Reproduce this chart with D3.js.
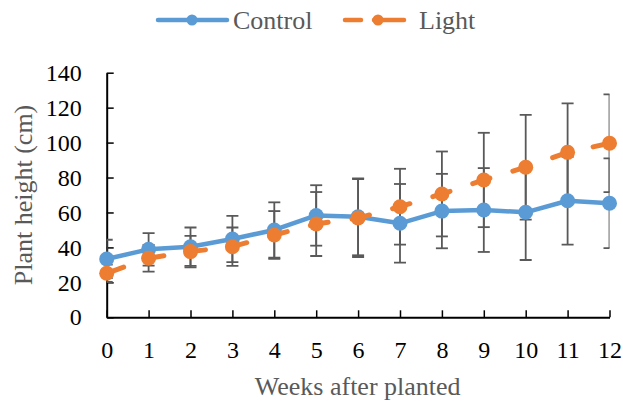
<!DOCTYPE html>
<html>
<head>
<meta charset="utf-8">
<script src="https://cdn.jsdelivr.net/npm/d3@7"></script>
<style>
  html, body { margin: 0; padding: 0; background: #fff; }
  svg { display: block; }
</style>
</head>
<body>
<svg id="chart" width="623" height="403"></svg>
<script>
const weeks = [0, 1, 2, 3, 4, 5, 6, 7, 8, 9, 10, 11, 12];
const seriesNames = ["Control", "Light"];
const control = [33.4, 38.9, 40.4, 44.8, 50.0, 58.3, 57.5, 53.8, 60.8, 61.4, 60.1, 66.7, 65.3];
const controlErr = [11, 9.3, 11, 13.2, 15.8, 17.3, 22, 22.5, 21.3, 24, 27.3, 25.1, 25.7];
const light = [25.2, 33.8, 37.6, 40.4, 47.1, 53.4, 56.8, 63.3, 70.6, 78.6, 85.9, 94.4, 99.6];
const lightErr = [5, 7.7, 9, 11, 13.7, 18.3, 22.3, 21.7, 24.3, 27, 30, 28, 28];
const yTicks = [0, 20, 40, 60, 80, 100, 120, 140];
const xTitle = "Weeks after planted";
const yTitle = "Plant height (cm)";

const colors = { Control: "#5B9BD5", Light: "#ED7D31" };
const font = "'Liberation Serif', 'Times New Roman', serif";

const svg = d3.select("#chart");
const x = d3.scaleLinear().domain([0, 12]).range([106.7, 609.5]);
const y = d3.scaleLinear().domain([0, 140]).range([317.3, 72.7]);

// clip for error bars (plot area)
svg.append("defs").append("clipPath").attr("id", "plotClip")
  .append("rect").attr("x", x(0)).attr("y", 0).attr("width", x(12) - x(0)).attr("height", y(0));

// axes
const xAxis = d3.axisBottom(x).tickValues(weeks).tickSizeInner(-7).tickSizeOuter(0).tickPadding(24).tickFormat(d3.format("d"));
const yAxis = d3.axisLeft(y).tickValues(yTicks).tickSizeInner(-7).tickSizeOuter(0).tickPadding(25).tickFormat(d3.format("d"));

const gx = svg.append("g").attr("transform", `translate(0,${y(0)})`).call(xAxis);
const gy = svg.append("g").attr("transform", `translate(${x(0)},0)`).call(yAxis);
[gx, gy].forEach(g => {
  g.attr("font-family", null);
  g.select(".domain").attr("stroke", "#000").attr("stroke-width", 2);
  g.selectAll(".tick line").attr("stroke", "#000").attr("stroke-width", 1.5);
  g.selectAll(".tick text").attr("fill", "#000").style("font-family", font).style("font-size", "24px");
});

// error bars
const series = [
  { name: "Control", values: control, err: controlErr },
  { name: "Light", values: light, err: lightErr }
];
const eb = svg.append("g").attr("clip-path", "url(#plotClip)");
series.forEach(s => {
  weeks.forEach((w, i) => {
    const cx = x(w), lo = y(s.values[i] - s.err[i]), hi = y(s.values[i] + s.err[i]);
    eb.append("line").attr("x1", cx).attr("x2", cx).attr("y1", lo).attr("y2", hi)
      .attr("stroke", "#595959").attr("stroke-width", 1.8);
    [lo, hi].forEach(yy => eb.append("line").attr("x1", cx - 6).attr("x2", cx + 6).attr("y1", yy).attr("y2", yy)
      .attr("stroke", "#595959").attr("stroke-width", 1.8));
  });
});

// lines and markers
const line = d3.line().x((d, i) => x(weeks[i])).y(d => y(d));
series.forEach(s => {
  const p = svg.append("path").datum(s.values).attr("d", line)
    .attr("fill", "none").attr("stroke", colors[s.name])
    .attr("stroke-width", s.name === "Light" ? 5 : 4.5)
    .attr("stroke-linecap", "round").attr("stroke-linejoin", "round");
  if (s.name === "Light") p.attr("stroke-dasharray", "18,24");
  svg.append("g").selectAll("circle").data(s.values).join("circle")
    .attr("cx", (d, i) => x(weeks[i])).attr("cy", d => y(d)).attr("r", 7.5)
    .attr("fill", colors[s.name]);
});

// axis titles
svg.append("text").attr("x", 357.7).attr("y", 395).attr("text-anchor", "middle")
  .style("font-family", font).style("font-size", "26px").attr("fill", "#595959").text(xTitle);
svg.append("text").attr("transform", "translate(32,195) rotate(-90)").attr("text-anchor", "middle")
  .style("font-family", font).style("font-size", "26px").attr("fill", "#595959").text(yTitle);

// legend
const legend = [
  { name: "Control", x1: 158, x2: 227, mx: 192, tx: 233, dash: null },
  { name: "Light", x1: 345, x2: 404, mx: 378, tx: 419, dash: "16,13,40" }
];
legend.forEach(l => {
  const g = svg.append("g");
  const ln = g.append("line").attr("x1", l.x1).attr("x2", l.x2).attr("y1", 20).attr("y2", 20)
    .attr("stroke", colors[l.name]).attr("stroke-width", 4.5).attr("stroke-linecap", "round");
  if (l.dash) ln.attr("stroke-dasharray", l.dash);
  g.append("circle").attr("cx", l.mx).attr("cy", 20).attr("r", 5.5).attr("fill", colors[l.name]);
  g.append("text").attr("x", l.tx).attr("y", 29).style("font-family", font).style("font-size", "26px")
    .attr("fill", "#595959").text(l.name);
});
</script>
</body>
</html>
